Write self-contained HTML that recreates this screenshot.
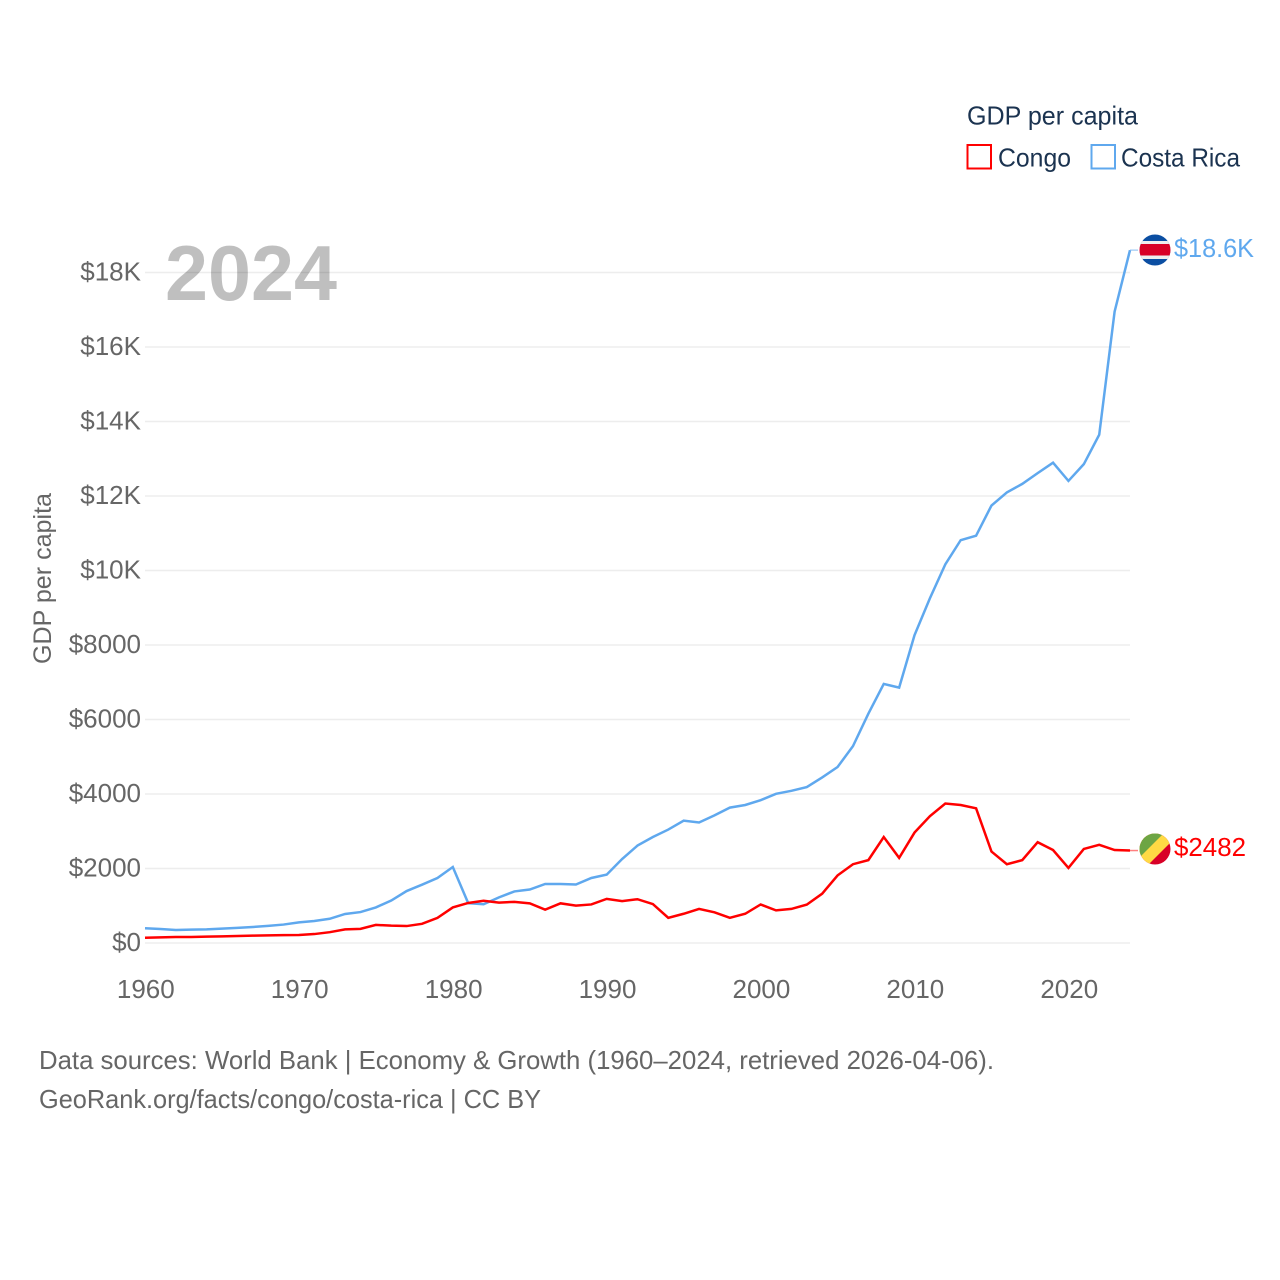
<!DOCTYPE html>
<html lang="en">
<head>
<meta charset="utf-8">
<title>GDP per capita: Congo and Costa Rica</title>
<style>
html,body{margin:0;padding:0;background:#fff;}
svg{display:block;font-family:"Liberation Sans",Arial,sans-serif;}
</style>
</head>
<body>
<svg id="chart" width="1280" height="1280" viewBox="0 0 1280 1280" xmlns="http://www.w3.org/2000/svg">
  <defs>
    <clipPath id="flag-clip-cr"><circle cx="1155" cy="250" r="15.5"/></clipPath>
    <clipPath id="flag-clip-cg"><circle cx="1155" cy="849" r="15.5"/></clipPath>
  </defs>
  <rect x="0" y="0" width="1280" height="1280" fill="#ffffff"/>
  <g id="grid"></g>
  <g id="y-ticks"></g>
  <g id="x-ticks"></g>
  <text x="165" y="300" font-size="78" font-weight="700" fill="#000000" fill-opacity="0.25" textLength="172" lengthAdjust="spacingAndGlyphs">2024</text>
  <text transform="translate(51,664) rotate(-90)" font-size="25" fill="#666666" textLength="171" lengthAdjust="spacingAndGlyphs">GDP per capita</text>
  <g id="series"></g>

  <g clip-path="url(#flag-clip-cr)">
    <rect x="1139" y="234" width="32" height="32" fill="#0b4ea2"/>
    <rect x="1139" y="241" width="32" height="18" fill="#eeeeee"/>
    <rect x="1139" y="244" width="32" height="11.5" fill="#d80027"/>
  </g>
  <g clip-path="url(#flag-clip-cg)">
    <rect x="1139" y="833" width="32" height="32" fill="#d80027"/>
    <polygon points="1139,865 1139,833 1171,833 1171,842 1148,865" fill="#ffda44"/>
    <polygon points="1139,833 1164,833 1139,858" fill="#6da544"/>
  </g>
  <text x="1174" y="257" font-size="26" fill="#5fa8ee" textLength="80" lengthAdjust="spacingAndGlyphs">$18.6K</text>
  <text x="1174" y="856" font-size="26" fill="#ff0000" textLength="72" lengthAdjust="spacingAndGlyphs">$2482</text>

  <g>
    <text x="967" y="124.5" font-size="26" fill="#1b3350" textLength="171" lengthAdjust="spacingAndGlyphs">GDP per capita</text>
    <rect x="967.5" y="145" width="23.5" height="23.5" fill="#ffffff" stroke="#ff0000" stroke-width="2"/>
    <text x="998" y="166.5" font-size="26" fill="#1b3350" textLength="73" lengthAdjust="spacingAndGlyphs">Congo</text>
    <rect x="1091.5" y="145" width="23.5" height="23.5" fill="#ffffff" stroke="#5fa8ee" stroke-width="2"/>
    <text x="1121" y="166.5" font-size="26" fill="#1b3350" textLength="119" lengthAdjust="spacingAndGlyphs">Costa Rica</text>
  </g>

  <text x="39" y="1069" font-size="26" fill="#666666" textLength="955" lengthAdjust="spacingAndGlyphs">Data sources: World Bank | Economy &amp; Growth (1960–2024, retrieved 2026-04-06).</text>
  <text x="39" y="1108" font-size="26" fill="#666666" textLength="502" lengthAdjust="spacingAndGlyphs">GeoRank.org/facts/congo/costa-rica | CC BY</text>

<script>
var firstYear = 1960;
var costaRicaValues = [395,375,350,360,365,385,405,430,460,495,555,590,650,780,830,955,1140,1395,1565,1745,2040,1070,1040,1225,1385,1435,1585,1585,1570,1745,1835,2255,2615,2845,3045,3285,3235,3425,3635,3705,3835,4005,4085,4185,4445,4725,5285,6155,6955,6855,8265,9255,10165,10815,10935,11745,12095,12325,12615,12895,12405,12855,13645,16950,18600];
var congoValues = [140,150,160,162,170,178,188,198,205,210,215,240,290,365,380,485,465,455,515,675,955,1075,1135,1085,1105,1065,895,1065,1005,1035,1185,1125,1175,1045,675,785,915,825,675,785,1035,875,915,1030,1325,1815,2115,2225,2845,2285,2965,3405,3745,3705,3615,2455,2115,2225,2705,2495,2015,2525,2635,2495,2482];
var yTickValues = [0,2000,4000,6000,8000,10000,12000,14000,16000,18000];
var yTickLabels = ["$0","$2000","$4000","$6000","$8000","$10K","$12K","$14K","$16K","$18K"];
var xTickYears = [1960,1970,1980,1990,2000,2010,2020];

var NS = "http://www.w3.org/2000/svg";
function xScale(year) { return 145 + (year - 1960) * (1130 - 145) / 64; }
function yScale(value) { return 943 - value * 670.5 / 18000; }
function make(tag, attrs, parent) {
  var el = document.createElementNS(NS, tag);
  for (var k in attrs) { el.setAttribute(k, attrs[k]); }
  parent.appendChild(el);
  return el;
}

var gridGroup = document.getElementById("grid");
var yGroup = document.getElementById("y-ticks");
var xGroup = document.getElementById("x-ticks");
var seriesGroup = document.getElementById("series");

yTickValues.forEach(function (v, i) {
  var line = make("line", {x1: 145, x2: 1130, y1: yScale(v), y2: yScale(v), stroke: "#ededed", "stroke-width": 1.5}, gridGroup);
  
  
  var label = make("text", {x: 141, y: yScale(v) + 8, "text-anchor": "end", "font-size": 26, fill: "#666666"}, yGroup);
  
  
  label.textContent = yTickLabels[i];
});

xTickYears.forEach(function (year) {
  var label = make("text", {x: xScale(year) + 0.8, y: 998, "text-anchor": "middle", "font-size": 26, fill: "#666666"}, xGroup);
  
  
  label.textContent = year;
});

function pointsFor(values) {
  return values.map(function (v, i) {
    return xScale(firstYear + i).toFixed(2) + "," + yScale(v).toFixed(2);
  }).join(" ");
}
function lastY(values) { return yScale(values[values.length - 1]); }

var congoLeader = make("line", {x1: 1130, x2: 1138, y1: lastY(congoValues), y2: lastY(congoValues), stroke: "#ff0000", "stroke-width": 1.5, "stroke-opacity": 0.5}, seriesGroup);


var costaLeader = make("line", {x1: 1130, x2: 1138, y1: lastY(costaRicaValues), y2: lastY(costaRicaValues), stroke: "#5fa8ee", "stroke-width": 1.5, "stroke-opacity": 0.5}, seriesGroup);



var costaLine = make("polyline", {points: pointsFor(costaRicaValues), fill: "none", stroke: "#5fa8ee", "stroke-width": 2.5, "stroke-linejoin": "miter"}, seriesGroup);


var congoLine = make("polyline", {points: pointsFor(congoValues), fill: "none", stroke: "#ff0000", "stroke-width": 2.5, "stroke-linejoin": "miter"}, seriesGroup);


</script>
</svg>
</body>
</html>
